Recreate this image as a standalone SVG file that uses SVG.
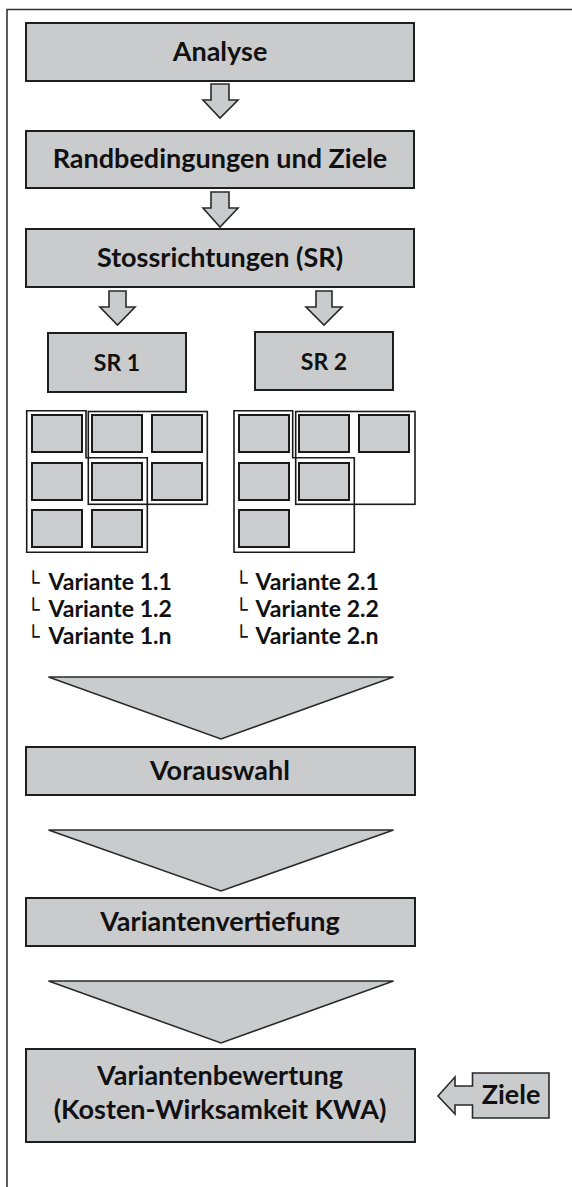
<svg xmlns="http://www.w3.org/2000/svg" width="572" height="1187" viewBox="0 0 572 1187">
<style>
.box{fill:#cacbcd;stroke:#1e1e1e;stroke-width:2}
.cell{fill:#cbcccd;stroke:#1a1a1a;stroke-width:2}
.outl{fill:none;stroke:#1a1a1a;stroke-width:1.6}
.arr{fill:#cacbcd;stroke:#2a2a2a;stroke-width:1.6;stroke-linejoin:miter}
.t{font-family:Lato,"Noto Sans",sans-serif;font-weight:bold;fill:#111;text-anchor:middle}
.big{font-size:27px}
.sm{font-size:23px}
.v{font-family:Lato,"Noto Sans",sans-serif;font-weight:bold;font-size:23px;fill:#111}
.br{font-family:"DejaVu Sans",sans-serif;font-size:21px;fill:#111}
</style>
<defs>
<g id="cells">
<rect class="cell" x="32" y="415" width="50" height="37"/>
<rect class="cell" x="92" y="415" width="50" height="37"/>
<rect class="cell" x="152" y="415" width="50" height="37"/>
<rect class="cell" x="32" y="463" width="50" height="37"/>
<rect class="cell" x="92" y="463" width="50" height="37"/>
</g>
</defs>
<rect x="0" y="0" width="572" height="1187" fill="#fff"/>
<g id="frame">
<path d="M7 1187 V9.5 H572" fill="none" stroke="#333" stroke-width="1.6"/>
</g>
<g id="connectors">
<polygon class="arr" points="211,84 229,84 229,100 238,100 220,118 203,100 211,100"/>
<polygon class="arr" points="211,192 229,192 229,208 238,208 220,227 203,208 211,208"/>
<polygon class="arr" points="109,291 126,291 126,307 135,307 117.5,325 100,307 109,307"/>
<polygon class="arr" points="316,291 332,291 332,307 342,307 324,325 306,307 316,307"/>
<polygon class="arr" points="48.5,677 393.5,677 221,739"/>
<polygon class="arr" points="48.5,830 393.5,830 221,891"/>
<polygon class="arr" points="48.5,981 393.5,981 221,1043"/>
</g>
<g id="analyse">
<rect class="box" x="26" y="23" width="388" height="58"/>
<text class="t big" x="220" y="61">Analyse</text>
</g>
<g id="randbedingungen">
<rect class="box" x="26" y="131" width="388" height="57"/>
<text class="t big" x="220" y="168">Randbedingungen und Ziele</text>
</g>
<g id="stossrichtungen">
<rect class="box" x="26" y="229" width="388" height="58"/>
<text class="t big" x="220" y="267">Stossrichtungen (SR)</text>
</g>
<g id="sr1">
<rect class="box" x="48" y="333" width="138" height="59"/>
<text class="t sm" x="117" y="371">SR 1</text>
</g>
<g id="sr2">
<rect class="box" x="255" y="332" width="138" height="58"/>
<text class="t sm" x="324" y="370">SR 2</text>
</g>
<g id="grid1">
<use href="#cells"/>
<rect class="cell" x="152" y="463" width="50" height="37"/>
<rect class="cell" x="32" y="510" width="50" height="37"/>
<rect class="cell" x="92" y="510" width="50" height="37"/>
<polygon class="outl" points="26.7,410.7 86,410.7 86,457.7 147.3,457.7 147.3,552.3 26.7,552.3"/>
<rect class="outl" x="88.3" y="411.5" width="119" height="92.8"/>
</g>
<g id="grid2">
<use href="#cells" transform="translate(207,0)"/>
<rect class="cell" x="239" y="510" width="50" height="37"/>
<polygon class="outl" points="234,410.7 292.7,410.7 292.7,457.7 354.3,457.7 354.3,552.3 234,552.3"/>
<rect class="outl" x="295.7" y="411.5" width="119.3" height="92.8"/>
</g>
<g id="varianten1">
<text class="br" x="27" y="590">└</text>
<text class="v" x="48.5" y="590">Variante 1.1</text>
<text class="br" x="27" y="617">└</text>
<text class="v" x="48.5" y="617">Variante 1.2</text>
<text class="br" x="27" y="644">└</text>
<text class="v" x="48.5" y="644">Variante 1.n</text>
</g>
<g id="varianten2">
<text class="br" x="235" y="590">└</text>
<text class="v" x="255.5" y="590">Variante 2.1</text>
<text class="br" x="235" y="617">└</text>
<text class="v" x="255.5" y="617">Variante 2.2</text>
<text class="br" x="235" y="644">└</text>
<text class="v" x="255.5" y="644">Variante 2.n</text>
</g>
<g id="vorauswahl">
<rect class="box" x="26" y="747" width="389" height="48"/>
<text class="t big" x="220" y="780">Vorauswahl</text>
</g>
<g id="vertiefung">
<rect class="box" x="26" y="898" width="389" height="48"/>
<text class="t big" x="220" y="931">Variantenvertiefung</text>
</g>
<g id="bewertung">
<rect class="box" x="26" y="1049" width="389" height="93"/>
<text class="t big" x="220" y="1085">Variantenbewertung</text>
<text class="t big" x="220" y="1119">(Kosten-Wirksamkeit KWA)</text>
</g>
<g id="ziele">
<polygon class="arr" points="438,1096 455,1077 455,1086 472.5,1086 472.5,1073 549,1073 549,1118 472.5,1118 472.5,1105 455,1105 455,1114"/>
<text class="t big" x="511" y="1104">Ziele</text>
</g>
</svg>
